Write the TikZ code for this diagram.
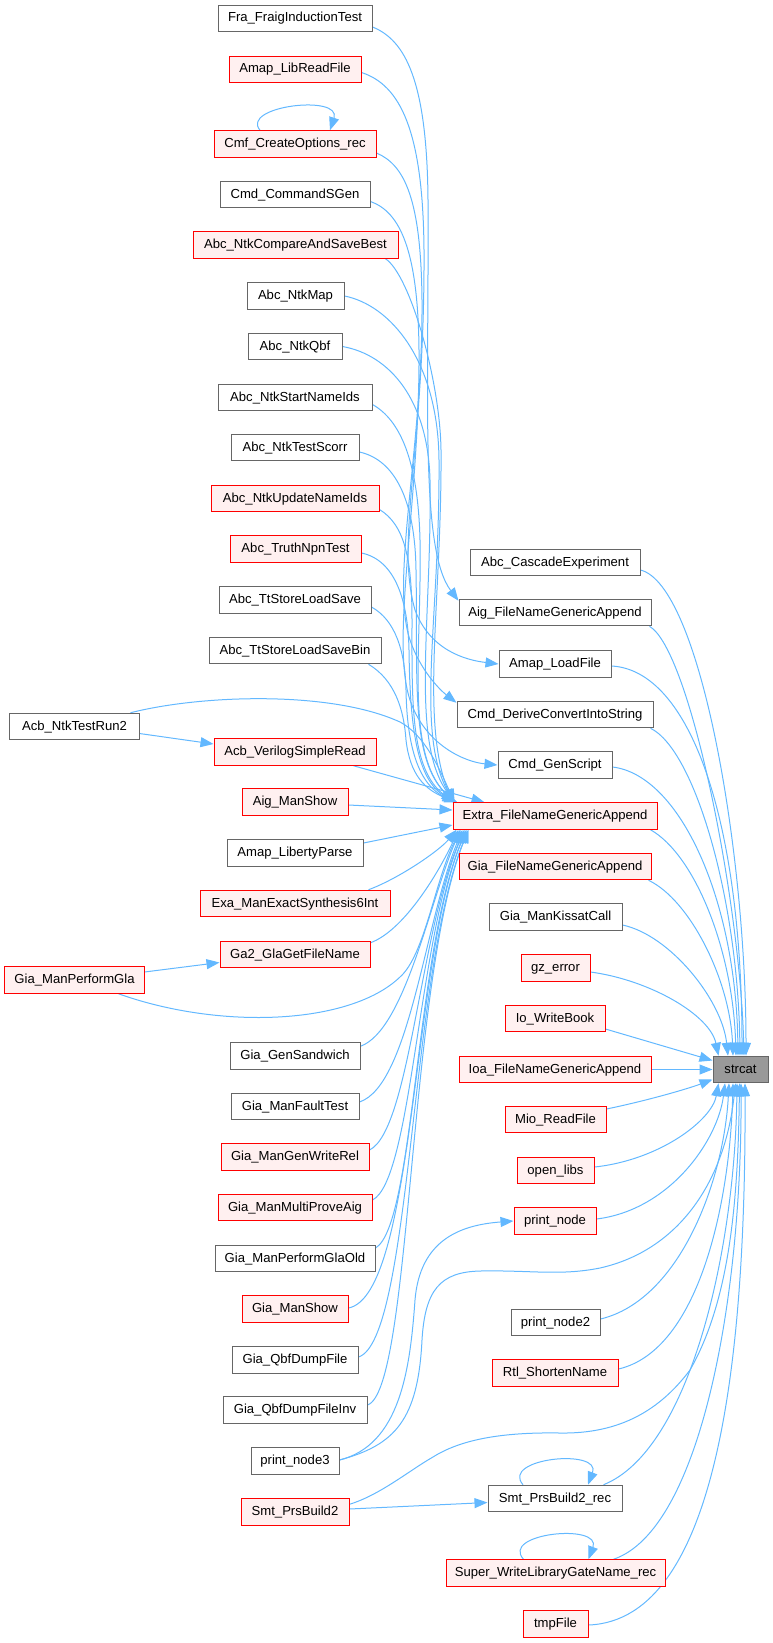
\documentclass[tikz,border=0pt]{standalone}
\usepackage{fontspec}
\setmainfont{Liberation Sans}
\usetikzlibrary{arrows.meta,calc}
\definecolor{edgeblue}{HTML}{63B8FF}
\definecolor{boxgray}{HTML}{666666}
\definecolor{boxred}{HTML}{FF0000}
\definecolor{redfill}{HTML}{FFF0F0}
\definecolor{hubfill}{HTML}{999999}
\newcommand{\nodefont}{\fontsize{13.1bp}{15bp}\selectfont}
\pgfdeclarelayer{bg}
\pgfsetlayers{bg,main}
\begin{document}
\begin{tikzpicture}[x=1bp,y=-1bp,
  box/.style={draw=boxgray, line width=1bp, fill=white, inner sep=0pt, minimum height=26.5bp,
    text height=10bp, text depth=3bp, font=\nodefont, text=black},
  hot/.style={box, draw=boxred, fill=redfill},
  hub/.style={box, fill=hubfill},
  edge/.style={draw=edgeblue, line width=1bp, -{Triangle[length=13bp,width=10bp]}}]
\useasboundingbox (0,0) rectangle (773,1643);
% left column
\node[box, minimum width=154bp] (fra) at (295,18.5) {Fra\_FraigInductionTest};
\node[hot, minimum width=132bp] (amaplib) at (295,69.5) {Amap\_LibReadFile};
\node[hot, minimum width=162bp] (cmf) at (295,144) {Cmf\_CreateOptions\_rec};
\node[box, minimum width=150bp] (cmdsgen) at (295,194.5) {Cmd\_CommandSGen};
\node[hot, minimum width=205bp] (cmpbest) at (295.5,245) {Abc\_NtkCompareAndSaveBest};
\node[box, minimum width=97bp] (ntkmap) at (295.5,296) {Abc\_NtkMap};
\node[box, minimum width=94bp] (ntkqbf) at (295,346.5) {Abc\_NtkQbf};
\node[box, minimum width=154bp] (startids) at (295,397.5) {Abc\_NtkStartNameIds};
\node[box, minimum width=128bp] (scorr) at (295,447.5) {Abc\_NtkTestScorr};
\node[hot, minimum width=168bp] (updids) at (295,498.5) {Abc\_NtkUpdateNameIds};
\node[hot, minimum width=131bp] (npn) at (295.5,549) {Abc\_TruthNpnTest};
\node[box, minimum width=152bp] (ttsave) at (295,600) {Abc\_TtStoreLoadSave};
\node[box, minimum width=172bp] (ttbin) at (295,650.5) {Abc\_TtStoreLoadSaveBin};
\node[box, minimum width=129bp] (acbrun) at (74.5,726.5) {Acb\_NtkTestRun2};
\node[hot, minimum width=162bp] (acbread) at (295,752) {Acb\_VerilogSimpleRead};
\node[hot, minimum width=106bp] (aigshow) at (295,802) {Aig\_ManShow};
\node[box, minimum width=136bp] (libparse) at (295,853) {Amap\_LibertyParse};
\node[hot, minimum width=190bp] (exa) at (295,903.5) {Exa\_ManExactSynthesis6Int};
\node[hot, minimum width=150bp] (ga2) at (295,954.5) {Ga2\_GlaGetFileName};
\node[hot, minimum width=139bp] (gla) at (74.5,980) {Gia\_ManPerformGla};
\node[box, minimum width=130bp] (sandwich) at (295,1056) {Gia\_GenSandwich};
\node[box, minimum width=128bp] (fault) at (295,1106.5) {Gia\_ManFaultTest};
\node[hot, minimum width=148bp] (writerel) at (295,1157) {Gia\_ManGenWriteRel};
\node[hot, minimum width=154bp] (multiprove) at (295,1207.5) {Gia\_ManMultiProveAig};
\node[box, minimum width=160bp] (glaold) at (295,1258.5) {Gia\_ManPerformGlaOld};
\node[hot, minimum width=106bp] (giashow) at (295,1309) {Gia\_ManShow};
\node[box, minimum width=126bp] (qbfdump) at (295,1360) {Gia\_QbfDumpFile};
\node[box, minimum width=144bp] (qbfinv) at (295,1410) {Gia\_QbfDumpFileInv};
\node[box, minimum width=88bp] (pn3) at (295,1461) {print\_node3};
\node[hot, minimum width=108bp] (smt2) at (295,1512) {Smt\_PrsBuild2};
% right column
\node[box, minimum width=170bp] (casc) at (555,562.5) {Abc\_CascadeExperiment};
\node[box, minimum width=192bp] (aigfile) at (555,612.5) {Aig\_FileNameGenericAppend};
\node[box, minimum width=112bp] (amaplf) at (555,664) {Amap\_LoadFile};
\node[box, minimum width=196bp] (cmdderive) at (555,714.5) {Cmd\_DeriveConvertIntoString};
\node[box, minimum width=114bp] (cmdgen) at (555,765) {Cmd\_GenScript};
\node[hot, minimum width=204bp] (extra) at (555,816) {Extra\_FileNameGenericAppend};
\node[hot, minimum width=192bp] (giafile) at (555,866.5) {Gia\_FileNameGenericAppend};
\node[box, minimum width=133bp] (kissat) at (555.5,917) {Gia\_ManKissatCall};
\node[hot, minimum width=69bp] (gzerr) at (555.5,968) {gz\_error};
\node[hot, minimum width=100bp] (iowb) at (555,1018.5) {Io\_WriteBook};
\node[hot, minimum width=192bp] (ioa) at (555,1069.5) {Ioa\_FileNameGenericAppend};
\node[hot, minimum width=101bp] (mio) at (555.5,1119.5) {Mio\_ReadFile};
\node[hot, minimum width=77bp] (openlibs) at (555.5,1170.5) {open\_libs};
\node[hot, minimum width=82bp] (pn) at (555,1221) {print\_node};
\node[box, minimum width=89bp] (pn2) at (555.5,1322.5) {print\_node2};
\node[hot, minimum width=126bp] (rtl) at (555,1373) {Rtl\_ShortenName};
\node[box, minimum width=134bp] (smtrec) at (555,1498.5) {Smt\_PrsBuild2\_rec};
\node[hot, minimum width=219bp] (superw) at (555.5,1573) {Super\_WriteLibraryGateName\_rec};
\node[hot, minimum width=65bp] (tmpfile) at (555.5,1624) {tmpFile};
\node[hub, minimum width=55bp] (strcat) at (740.5,1069.5) {strcat};

\begin{pgfonlayer}{bg}
% self loops
\draw[edge] ($(cmf.north)+(-35,0)$) .. controls (240,106) and (342,94) .. ($(cmf.north)+(35,0)$);
\draw[edge] ($(smtrec.north)+(-32,0)$) .. controls (500,1458) and (602,1448) .. ($(smtrec.north)+(33,0)$);
\draw[edge] ($(superw.north)+(-32,0)$) .. controls (500,1533) and (602,1523) .. ($(superw.north)+(33,0)$);

% top four special edges
\draw[edge] ($(fra.east)+(0,8.5)$) .. controls (405,40) and (427,80) .. (428,200)
  .. controls (429,400) and (420,550) .. ($(aigfile.north west)+(0,2)$);
\draw[edge] ($(amaplib.east)+(0,3)$) .. controls (400,85) and (423,130) .. (424,250)
  .. controls (425,450) and (395,540) .. (415,610) .. controls (430,650) and (465,660) .. (amaplf.west);
\draw[edge] ($(cmf.east)+(0,9)$) .. controls (405,165) and (421,200) .. (422,300)
  .. controls (423,450) and (390,580) .. (410,640) .. controls (420,670) and (440,690) .. ($(cmdderive.north west)+(0,2)$);
\draw[edge] ($(cmdsgen.east)+(0,7)$) .. controls (400,212) and (418,250) .. (419,350)
  .. controls (420,500) and (390,640) .. (410,700) .. controls (425,745) and (465,762) .. (cmdgen.west);

% top group into Extra
\draw[edge] ($(cmpbest.south east)+(-13,0)$) .. controls (410,275) and (440,380) .. (441,450)
  .. controls (442,600) and (420,720) .. ($(extra.north west)+(0,0)$);
\draw[edge] (ntkmap.east) .. controls (390,305) and (438,360) .. (439,460)
  .. controls (440,620) and (415,730) .. ($(extra.north west)+(1,0)$);
\draw[edge] (ntkqbf.east) .. controls (390,355) and (428,400) .. (430,480)
  .. controls (432,620) and (410,740) .. ($(extra.north west)+(2,0)$);
\draw[edge] ($(startids.east)+(0,7)$) .. controls (400,420) and (418,460) .. (420,540)
  .. controls (422,650) and (405,750) .. ($(extra.north west)+(1,0)$);
\draw[edge] ($(scorr.east)+(0,4.5)$) .. controls (395,460) and (415,500) .. (416,570)
  .. controls (418,680) and (410,760) .. ($(extra.north west)+(3,0)$);
\draw[edge] ($(updids.east)+(0,11)$) .. controls (405,525) and (412,560) .. (412,620)
  .. controls (412,700) and (410,770) .. ($(extra.north west)+(2,0)$);
\draw[edge] ($(npn.east)+(0,4)$) .. controls (395,560) and (408,600) .. (409,650)
  .. controls (410,720) and (415,780) .. ($(extra.north west)+(4,0)$);
\draw[edge] ($(ttsave.east)+(0,7)$) .. controls (395,620) and (405,650) .. (406,690)
  .. controls (407,750) and (420,785) .. ($(extra.north west)+(3,0)$);
\draw[edge] ($(ttbin.south east)+(-13,0)$) .. controls (395,680) and (404,710) .. (406,740)
  .. controls (410,775) and (425,790) .. ($(extra.north west)+(5,0)$);

% Acb
\draw[edge] ($(acbrun.east)+(0,7)$) -- ($(acbread.west)+(0,-8)$);
\draw[edge] ($(acbrun.north east)+(-9,0)$) .. controls (200,695) and (330,690) .. (400,722)
  .. controls (425,735) and (440,770) .. ($(extra.north west)+(2,0)$);
\draw[edge] ($(acbread.south east)+(-23,0)$) -- ($(extra.north west)+(32,0)$);
\draw[edge] ($(aigshow.east)+(0,3)$) -- ($(extra.west)+(0,-6)$);
\draw[edge] ($(libparse.east)+(0,-10)$) -- ($(extra.west)+(0,9)$);

% bottom group into Extra
\draw[edge] ($(exa.north east)+(-22,0)$) .. controls (400,878) and (440,850) .. ($(extra.south west)+(4,0)$);
\draw[edge] ($(ga2.north east)+(0,2)$) .. controls (405,930) and (440,870) .. ($(extra.south west)+(6,0)$);
\draw[edge] ($(gla.east)+(0,-8)$) -- ($(ga2.west)+(0,8)$);
\draw[edge] ($(gla.south east)+(-26,0)$) .. controls (220,1030) and (350,1025) .. (400,977)
  .. controls (425,955) and (435,880) .. ($(extra.south west)+(8,0)$);
\draw[edge] ($(sandwich.north east)+(0,4)$) .. controls (405,1030) and (430,900) .. ($(extra.south west)+(8,0)$);
\draw[edge] ($(fault.east)+(0,-4.5)$) .. controls (410,1085) and (425,920) .. ($(extra.south west)+(10,0)$);
\draw[edge] ($(writerel.east)+(0,-7)$) .. controls (410,1130) and (420,930) .. ($(extra.south west)+(12,0)$);
\draw[edge] ($(multiprove.east)+(0,-7.5)$) .. controls (412,1180) and (418,940) .. ($(extra.south west)+(12,0)$);
\draw[edge] ($(glaold.east)+(0,-10.5)$) .. controls (415,1225) and (415,950) .. ($(extra.south west)+(14,0)$);
\draw[edge] ($(giashow.east)+(0,-1)$) .. controls (415,1295) and (412,960) .. ($(extra.south west)+(14,0)$);
\draw[edge] ($(qbfdump.east)+(0,-3)$) .. controls (412,1340) and (410,970) .. ($(extra.south west)+(16,0)$);
\draw[edge] ($(qbfinv.east)+(0,-5)$) .. controls (412,1390) and (408,980) .. ($(extra.south west)+(16,0)$);

% print_node3 and Smt_PrsBuild2
\draw[edge] ($(pn3.east)+(0,-1)$) .. controls (400,1445) and (410,1370) .. (415,1300)
  .. controls (420,1240) and (460,1225) .. (pn.west);
\draw[edge] ($(pn3.east)+(0,-1)$) .. controls (395,1445) and (418,1420) .. (422,1340)
  .. controls (425,1290) and (440,1272) .. (480,1271) .. controls (530,1270) and (560,1276) .. (600,1268)
  .. controls (680,1250) and (725,1180) .. ($(strcat.south)+(-5,0)$);
\draw[edge] ($(smt2.east)+(0,-3)$) -- ($(smtrec.west)+(0,4)$);
\draw[edge] ($(smt2.north east)+(0,6)$) .. controls (380,1495) and (410,1470) .. (433,1457)
  .. controls (460,1440) and (500,1432) .. (560,1433) .. controls (620,1434) and (660,1410) .. (690,1370)
  .. controls (730,1300) and (738,1200) .. ($(strcat.south)+(-1,0)$);

% right column into strcat
\draw[edge] ($(casc.east)+(0,7.5)$) .. controls (700,585) and (746,850) .. ($(strcat.north)+(5.5,0)$);
\draw[edge] ($(aigfile.south east)+(-2,0)$) .. controls (690,650) and (740,900) .. ($(strcat.north)+(3.5,0)$);
\draw[edge] ($(amaplf.east)+(0,2)$) .. controls (690,670) and (742,820) .. ($(strcat.north)+(1.5,0)$);
\draw[edge] ($(cmdderive.south east)+(-3,0)$) .. controls (695,750) and (738,900) .. ($(strcat.north)+(-0.5,0)$);
\draw[edge] ($(cmdgen.east)+(0,2)$) .. controls (680,775) and (736,900) .. ($(strcat.north)+(-2.5,0)$);
\draw[edge] ($(extra.south east)+(-7,0)$) .. controls (695,855) and (733,950) .. ($(strcat.north)+(-4.5,0)$);
\draw[edge] ($(giafile.south east)+(-3,0)$) .. controls (690,900) and (730,980) .. ($(strcat.north)+(-7.5,0)$);
\draw[edge] ($(kissat.east)+(0,8)$) .. controls (670,935) and (722,1000) .. ($(strcat.north)+(-12.5,0)$);
\draw[edge] ($(gzerr.east)+(0,4)$) .. controls (650,980) and (710,1015) .. ($(strcat.north west)+(6,0)$);
\draw[edge] ($(iowb.east)+(0,10.5)$) -- ($(strcat.west)+(0,-9)$);
\draw[edge] (ioa.east) -- (strcat.west);
\draw[edge] ($(mio.east)+(0,-10.5)$) .. controls (650,1100) and (690,1088) .. ($(strcat.west)+(0,10)$);
\draw[edge] ($(openlibs.east)+(0,-3.5)$) .. controls (660,1160) and (712,1120) .. ($(strcat.south west)+(6,0)$);
\draw[edge] ($(pn.east)+(0,-2)$) .. controls (670,1210) and (718,1140) .. ($(strcat.south)+(-15.5,0)$);
\draw[edge] ($(pn2.east)+(0,-3.5)$) .. controls (680,1300) and (724,1180) .. ($(strcat.south)+(-11.5,0)$);
\draw[edge] ($(rtl.east)+(0,-4)$) .. controls (700,1350) and (730,1200) .. ($(strcat.south)+(-7.5,0)$);
\draw[edge] ($(smtrec.north east)+(-19,0)$) .. controls (690,1450) and (735,1250) .. ($(strcat.south)+(-3.5,0)$);
\draw[edge] ($(superw.north east)+(-52,0)$) .. controls (700,1530) and (742,1300) .. ($(strcat.south)+(0.5,0)$);
\draw[edge] ($(tmpfile.east)+(0,1)$) .. controls (720,1620) and (746,1350) .. ($(strcat.south)+(4.5,0)$);
\end{pgfonlayer}
\end{tikzpicture}
\end{document}
